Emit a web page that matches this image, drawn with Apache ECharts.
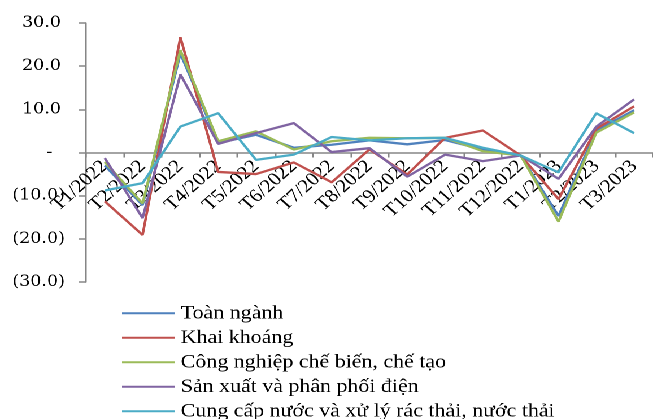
<!DOCTYPE html>
<html>
<head>
<meta charset="utf-8">
<script src="https://cdn.jsdelivr.net/npm/echarts@6/dist/echarts.min.js"></script>
<style>
  html, body { margin: 0; padding: 0; background: #ffffff; overflow: hidden; }
  #wrap { width: 653px; height: 419px; overflow: hidden; }
  /* the chart is laid out narrower and widened to the full frame */
  #chart { width: 578px; height: 419px; transform: scaleX(1.1298); transform-origin: 0 0; }
</style>
</head>
<body>
<div id="wrap"><div id="chart"></div></div>
<script>
// Monthly growth (%) by industry group
const categories = ['T1/2022', 'T2/2022', 'T3/2022', 'T4/2022', 'T5/2022', 'T6/2022', 'T7/2022',
  'T8/2022', 'T9/2022', 'T10/2022', 'T11/2022', 'T12/2022', 'T1/2023', 'T2/2023', 'T3/2023'];

const seriesNames = [
  'Toàn ngành',
  'Khai khoáng',
  'Công nghiệp chế biến, chế tạo',
  'Sản xuất và phân phối điện',
  'Cung cấp nước và xử lý rác thải, nước thải'
];

const toanNganh   = [-3.0, -12.2, 22.9, 2.2, 4.1, 1.1, 1.8, 2.8, 1.9, 2.9, 0.7, -0.7, -14.7, 5.1, 9.8];
const khaiKhoang  = [-11.3, -19.1, 26.7, -4.5, -5.0, -2.3, -6.9, 0.7, -5.1, 3.4, 5.1, -0.7, -10.8, 5.5, 10.7];
const cheBien     = [-2.2, -11.8, 23.7, 2.6, 4.9, 0.7, 2.6, 3.4, 3.3, 3.4, 0.3, -0.7, -16.0, 4.6, 9.3];
const dien        = [-1.3, -15.2, 18.1, 2.0, 4.5, 6.8, 0.1, 1.0, -5.6, -0.5, -2.0, -0.7, -6.1, 6.0, 12.3];
const nuoc        = [-8.8, -7.1, 6.0, 9.1, -1.7, -0.5, 3.6, 2.8, 3.3, 3.4, 1.1, -0.7, -4.6, 9.1, 4.5];

const yTicks = { min: -30, max: 30, interval: 10 };

const colors = ['#4F81BD', '#C0504D', '#9BBB59', '#8064A2', '#4BACC6'];
const seriesData = [toanNganh, khaiKhoang, cheBien, dien, nuoc];

// accounting-style tick text: (10.0), -, 30.0
function fmtY(v) {
  if (v === 0) return '{z|-}';
  if (v < 0) return '{n|(' + Math.abs(v).toFixed(1) + ')}';
  return '{p|' + v.toFixed(1) + '}';
}

const gridTop = 23;
const gridBottom = 137;
const chartH = 419;
// distance from the grid's bottom edge up to the zero line
const plotH = chartH - gridTop - gridBottom;
const zeroOffset = -plotH * (0 - yTicks.min) / (yTicks.max - yTicks.min);

const chart = echarts.init(document.getElementById('chart'), null, { renderer: 'canvas', devicePixelRatio: 2 });
const axisFont = 'DejaVu Serif';
const textFont = '"Liberation Serif", "Times New Roman", serif';

chart.setOption({
  animation: false,
  backgroundColor: '#ffffff',
  color: colors,
  grid: { left: 76, right: 0, top: gridTop, bottom: gridBottom, containLabel: false },
  xAxis: {
    type: 'category',
    data: categories,
    boundaryGap: true,
    offset: zeroOffset,
    axisLine: { onZero: false, lineStyle: { color: '#868686', width: 1.5 } },
    axisTick: { show: true, length: 5, alignWithLabel: false, lineStyle: { color: '#868686', width: 1.5 } },
    axisLabel: {
      rotate: 45,
      interval: 0,
      margin: 11,
      color: '#000000',
      fontFamily: textFont,
      fontSize: 18.5
    },
    splitLine: { show: false }
  },
  yAxis: {
    type: 'value',
    min: yTicks.min,
    max: yTicks.max,
    interval: yTicks.interval,
    axisLine: { show: true, lineStyle: { color: '#868686', width: 1.5 } },
    axisTick: { show: true, length: 6.5, lineStyle: { color: '#868686', width: 1.5 } },
    splitLine: { show: false },
    axisLabel: {
      margin: 18.5,
      color: '#000000',
      formatter: fmtY,
      rich: {
        p: { fontFamily: axisFont, fontSize: 15.5, color: '#000', padding: [0, 3.5, 0, 0] },
        n: { fontFamily: axisFont, fontSize: 15.5, color: '#000' },
        z: { fontFamily: axisFont, fontSize: 15.5, color: '#000', padding: [0, 11, 0, 0] }
      }
    }
  },
  legend: {
    orient: 'vertical',
    left: 108,
    top: 301,
    height: 140,
    padding: 0,
    icon: 'rect',
    itemWidth: 47,
    itemHeight: 2,
    itemGap: 0,
    textStyle: { fontFamily: textFont, fontSize: 19.4, color: '#000', lineHeight: 24.5 },
    data: seriesNames
  },
  // lines sit on their own layer, above the tick labels
  series: seriesNames.map((name, i) => ({
    name: name,
    type: 'line',
    data: seriesData[i],
    symbol: 'none',
    smooth: false,
    zlevel: 1,
    lineStyle: { width: 2.3, color: colors[i] },
    itemStyle: { color: colors[i] }
  }))
});
</script>
</body>
</html>
